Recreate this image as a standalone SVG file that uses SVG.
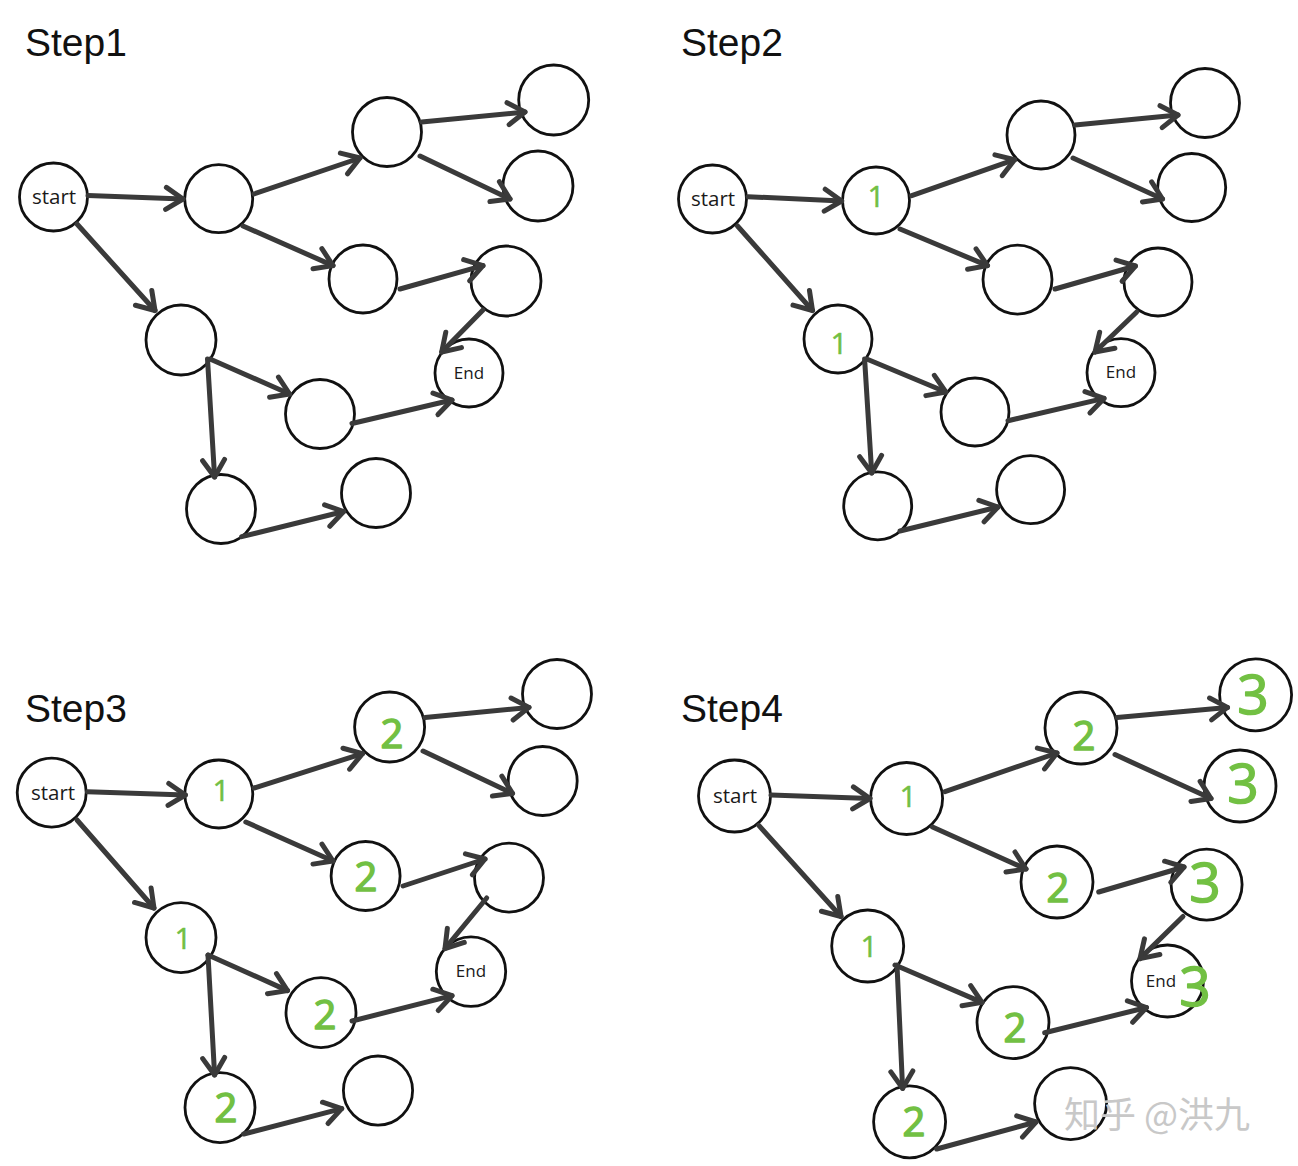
<svg xmlns="http://www.w3.org/2000/svg" width="1298" height="1166" viewBox="0 0 1298 1166">
<defs>
<marker id="ah" markerUnits="userSpaceOnUse" viewBox="-24 -16 28 32" markerWidth="28" markerHeight="32" refX="0" refY="0" orient="auto" overflow="visible">
<path d="M-17,-11 L0,0 L-17,11" fill="none" stroke="#3a3a3a" stroke-width="5" stroke-linecap="round" stroke-linejoin="round"/>
</marker>
</defs>
<style>
.n{fill:#fff;stroke:#111;stroke-width:2.8}
.e{stroke:#3a3a3a;stroke-width:5;stroke-linecap:round;fill:none;marker-end:url(#ah)}
.t{font-family:"Open Sans","Noto Sans",sans-serif;fill:#1a1a1a;text-anchor:middle}
.s{font-size:20.5px}
.d{font-size:17px}
.h{font-family:"Liberation Sans",Arial,sans-serif;font-size:39px;fill:#111}
.g{font-family:"Open Sans","Noto Sans",sans-serif;fill:#72c043;text-anchor:middle;stroke:#72c043;stroke-width:1.5;stroke-linejoin:round}
.g1{font-size:30px;stroke-width:0.5}
.g2{font-size:40px}
.g3{font-size:55px}
.w{font-family:"Noto Sans CJK SC","Liberation Sans",sans-serif;font-size:36px;fill:#c8c8c8}
</style>
<rect width="1298" height="1166" fill="#fff"/>

<g id="titles">
<text class="h" x="25" y="56">Step1</text>
<text class="h" x="681" y="56">Step2</text>
<text class="h" x="25" y="722">Step3</text>
<text class="h" x="681" y="722">Step4</text>
</g>

<!-- Panel 1 -->
<g id="p1-start"><circle class="n" cx="53.5" cy="197" r="34"/><text class="t s" x="54" y="204">start</text></g>
<g id="p1-a"><circle class="n" cx="218.7" cy="198.7" r="34"/></g>
<g id="p1-b"><circle class="n" cx="387" cy="132" r="34.5"/></g>
<g id="p1-c"><circle class="n" cx="553.7" cy="100" r="35"/></g>
<g id="p1-d"><circle class="n" cx="538" cy="186" r="35"/></g>
<g id="p1-e"><circle class="n" cx="363" cy="279" r="34"/></g>
<g id="p1-f"><circle class="n" cx="506" cy="281" r="35"/></g>
<g id="p1-end"><circle class="n" cx="469" cy="373" r="34"/><text class="t d" x="469" y="379">End</text></g>
<g id="p1-g"><circle class="n" cx="181" cy="340" r="35"/></g>
<g id="p1-h"><circle class="n" cx="320" cy="414" r="34.5"/></g>
<g id="p1-i"><circle class="n" cx="221" cy="509" r="34.5"/></g>
<g id="p1-j"><circle class="n" cx="376" cy="493" r="34.5"/></g>

<!-- Panel 2 -->
<g id="p2-start"><circle class="n" cx="712.5" cy="199" r="34"/><text class="t s" x="713" y="206">start</text></g>
<g id="p2-a"><circle class="n" cx="876" cy="200.5" r="33.5"/><text class="g g1" x="876" y="207">1</text></g>
<g id="p2-b"><circle class="n" cx="1041" cy="135" r="34"/></g>
<g id="p2-c"><circle class="n" cx="1205" cy="103" r="34.5"/></g>
<g id="p2-d"><circle class="n" cx="1191.7" cy="187.5" r="34"/></g>
<g id="p2-e"><circle class="n" cx="1017.5" cy="279.6" r="34.5"/></g>
<g id="p2-f"><circle class="n" cx="1158" cy="282" r="34"/></g>
<g id="p2-end"><circle class="n" cx="1121" cy="372.6" r="34"/><text class="t d" x="1121" y="378">End</text></g>
<g id="p2-g"><circle class="n" cx="838" cy="339" r="34"/><text class="g g1" x="839" y="354">1</text></g>
<g id="p2-h"><circle class="n" cx="975" cy="412" r="34"/></g>
<g id="p2-i"><circle class="n" cx="877.7" cy="505.8" r="34"/></g>
<g id="p2-j"><circle class="n" cx="1030.6" cy="489.6" r="34"/></g>

<!-- Panel 3 -->
<g id="p3-start"><circle class="n" cx="51.7" cy="792.6" r="34.5"/><text class="t s" x="53" y="800">start</text></g>
<g id="p3-a"><circle class="n" cx="218.8" cy="794" r="34"/><text class="g g1" x="221" y="801">1</text></g>
<g id="p3-b"><circle class="n" cx="389.6" cy="727" r="35"/><text class="g g2" x="392" y="748">2</text></g>
<g id="p3-c"><circle class="n" cx="557" cy="694" r="34.5"/></g>
<g id="p3-d"><circle class="n" cx="542.7" cy="781" r="34.5"/></g>
<g id="p3-e"><circle class="n" cx="365.6" cy="876" r="34.5"/><text class="g g2" x="366" y="891">2</text></g>
<g id="p3-f"><circle class="n" cx="509" cy="877.7" r="34.5"/></g>
<g id="p3-end"><circle class="n" cx="471" cy="971.6" r="34.7"/><text class="t d" x="471" y="977">End</text></g>
<g id="p3-g"><circle class="n" cx="181" cy="937.6" r="35"/><text class="g g1" x="183" y="949">1</text></g>
<g id="p3-h"><circle class="n" cx="321" cy="1012.6" r="35"/><text class="g g2" x="325" y="1029">2</text></g>
<g id="p3-i"><circle class="n" cx="220" cy="1107.6" r="35"/><text class="g g2" x="226" y="1122">2</text></g>
<g id="p3-j"><circle class="n" cx="378" cy="1090.6" r="34.6"/></g>

<!-- Panel 4 -->
<g id="p4-start"><circle class="n" cx="734.5" cy="796" r="36"/><text class="t s" x="735" y="803">start</text></g>
<g id="p4-a"><circle class="n" cx="906.6" cy="798.5" r="36"/><text class="g g1" x="908" y="807">1</text></g>
<g id="p4-b"><circle class="n" cx="1081" cy="728" r="36"/><text class="g g2" x="1084" y="750">2</text></g>
<g id="p4-c"><circle class="n" cx="1255.6" cy="694.8" r="36"/><text class="g g3" x="1253" y="714">3</text></g>
<g id="p4-d"><circle class="n" cx="1240" cy="786" r="36"/><text class="g g3" x="1243" y="803">3</text></g>
<g id="p4-e"><circle class="n" cx="1057" cy="882" r="36"/><text class="g g2" x="1058" y="902">2</text></g>
<g id="p4-f"><circle class="n" cx="1206.6" cy="884.6" r="35.5"/><text class="g g3" x="1205" y="902">3</text></g>
<g id="p4-end"><circle class="n" cx="1167.5" cy="981" r="36"/><text class="t d" x="1161" y="987">End</text><text class="g g3" x="1195" y="1006">3</text></g>
<g id="p4-g"><circle class="n" cx="867.7" cy="946" r="36"/><text class="g g1" x="869" y="957">1</text></g>
<g id="p4-h"><circle class="n" cx="1013" cy="1022.6" r="36"/><text class="g g2" x="1015" y="1042">2</text></g>
<g id="p4-i"><circle class="n" cx="909.6" cy="1121.8" r="36"/><text class="g g2" x="914" y="1136">2</text></g>
<g id="p4-j"><circle class="n" cx="1070.6" cy="1103.6" r="36"/></g>

<g id="connectors">
<!-- panel 1 -->
<line class="e" x1="88" y1="195.6" x2="183" y2="199"/>
<line class="e" x1="254" y1="194" x2="360" y2="158"/>
<line class="e" x1="421.7" y1="122" x2="525" y2="112"/>
<line class="e" x1="420" y1="156" x2="510" y2="199"/>
<line class="e" x1="243" y1="226" x2="333" y2="265.6"/>
<line class="e" x1="400" y1="289" x2="483" y2="265.6"/>
<line class="e" x1="483" y1="310" x2="441.7" y2="352"/>
<line class="e" x1="77" y1="224" x2="155" y2="310.5"/>
<line class="e" x1="210" y1="359" x2="289.6" y2="394"/>
<line class="e" x1="352" y1="423.5" x2="452" y2="400"/>
<line class="e" x1="207.5" y1="359" x2="214.6" y2="477"/>
<line class="e" x1="241.7" y1="536.6" x2="343.7" y2="511.5"/>
<!-- panel 2 -->
<line class="e" x1="748" y1="196.7" x2="841.7" y2="201"/>
<line class="e" x1="911.7" y1="195.6" x2="1014.6" y2="159.7"/>
<line class="e" x1="1075" y1="125" x2="1178" y2="115"/>
<line class="e" x1="1073" y1="158" x2="1162.5" y2="199"/>
<line class="e" x1="900" y1="229" x2="987.5" y2="265.6"/>
<line class="e" x1="1055" y1="289" x2="1135.4" y2="266"/>
<line class="e" x1="1136.7" y1="312" x2="1095" y2="352"/>
<line class="e" x1="737.5" y1="226" x2="812.5" y2="310.5"/>
<line class="e" x1="866.7" y1="359" x2="945.8" y2="392"/>
<line class="e" x1="1008" y1="420.7" x2="1104" y2="398.4"/>
<line class="e" x1="864.6" y1="359" x2="871.7" y2="473"/>
<line class="e" x1="900" y1="531" x2="998" y2="507"/>
<!-- panel 3 -->
<line class="e" x1="87.5" y1="791.7" x2="185.4" y2="795"/>
<line class="e" x1="254" y1="788" x2="362.5" y2="753.6"/>
<line class="e" x1="425" y1="717.5" x2="529" y2="707.4"/>
<line class="e" x1="423" y1="751" x2="512.5" y2="793.4"/>
<line class="e" x1="245.8" y1="822" x2="333" y2="861"/>
<line class="e" x1="403" y1="886" x2="485" y2="859"/>
<line class="e" x1="486.7" y1="898" x2="445" y2="948.5"/>
<line class="e" x1="77" y1="820" x2="154" y2="908"/>
<line class="e" x1="208" y1="955" x2="287.5" y2="990.6"/>
<line class="e" x1="352" y1="1021" x2="452" y2="995.7"/>
<line class="e" x1="208" y1="955" x2="214.6" y2="1075"/>
<line class="e" x1="243.7" y1="1134" x2="341.7" y2="1108.6"/>
<!-- panel 4 -->
<line class="e" x1="771" y1="795" x2="870" y2="798.5"/>
<line class="e" x1="945" y1="791.7" x2="1057" y2="753"/>
<line class="e" x1="1117" y1="717.5" x2="1227.5" y2="707.4"/>
<line class="e" x1="1115" y1="754.6" x2="1211" y2="798.5"/>
<line class="e" x1="932.5" y1="827" x2="1026" y2="869"/>
<line class="e" x1="1098.7" y1="892" x2="1184" y2="867"/>
<line class="e" x1="1183" y1="916.5" x2="1140" y2="958.6"/>
<line class="e" x1="758.8" y1="825.4" x2="841" y2="916.5"/>
<line class="e" x1="895" y1="965" x2="982" y2="1002.4"/>
<line class="e" x1="1044.7" y1="1032.8" x2="1146.5" y2="1007.5"/>
<line class="e" x1="897" y1="965" x2="902.6" y2="1088.4"/>
<line class="e" x1="936.7" y1="1149" x2="1036" y2="1122"/>
</g>

<text class="w" x="1064" y="1128">知乎 @洪九</text>
</svg>
